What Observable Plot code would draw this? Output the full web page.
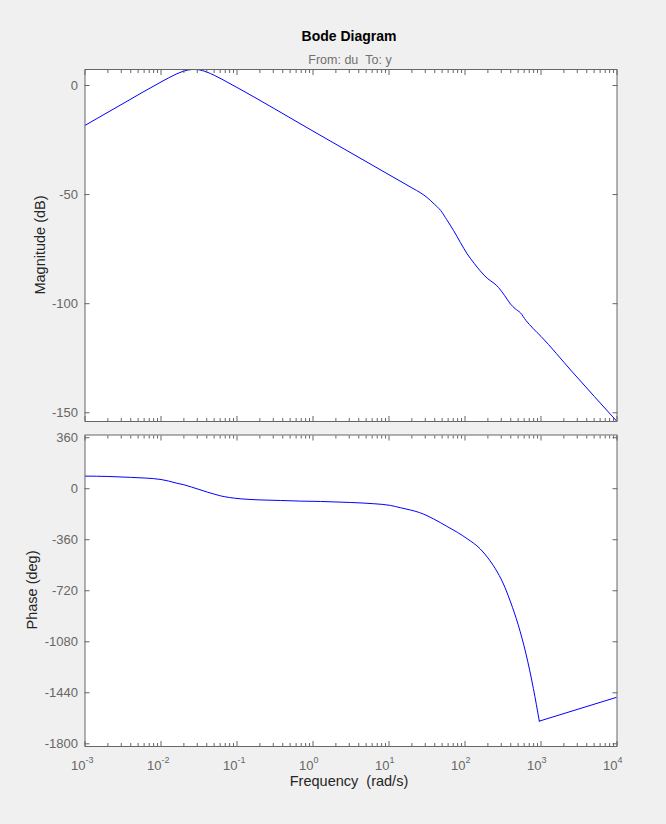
<!DOCTYPE html>
<html><head><meta charset="utf-8">
<script src="https://cdn.jsdelivr.net/npm/d3@7"></script>
<script src="https://cdn.jsdelivr.net/npm/@observablehq/plot@0.6"></script>
<style>
html,body{margin:0;padding:0;background:#f0f0f0;}
#fig{position:relative;width:666px;height:824px;background:#f0f0f0;overflow:hidden;font-family:"Liberation Sans",Arial,sans-serif;}
#fig svg{position:absolute;left:0;}
</style></head>
<body><div id="fig"></div>
<script>
// ---- data ----
const magFreq = [0.001, 0.00316, 0.01, 0.0158, 0.02, 0.0251, 0.0275, 0.0316, 0.0398, 0.0501, 0.0631, 0.1, 1, 10, 20, 26.3, 31.6, 39.8, 47.9, 57.5, 70.8, 87.1, 107, 132, 158, 200, 240, 275, 331, 398, 457, 537, 631, 794, 1000, 2512, 10000];
const magDb   = [-18.3, -8.3, 1.6, 5.2, 6.6, 7.3, 7.35, 7.2, 6.2, 4.7, 2.9, -0.9, -20.9, -40.9, -46.9, -49.3, -51.3, -54.5, -57.3, -61.5, -66.5, -72.0, -77.2, -81.5, -84.9, -88.6, -90.6, -92.5, -96.2, -100.2, -102.3, -104.2, -107.6, -111.5, -115.0, -130.8, -154.0];

const phaseFreq = [0.001, 0.002, 0.00398, 0.00631, 0.01, 0.0126, 0.0158, 0.02, 0.0251, 0.0316, 0.0407, 0.0501, 0.0603, 0.0794, 0.11, 0.2, 0.372, 0.681, 1.26, 3.09, 6.31, 10.5, 14.1, 19.1, 25.1, 31.6, 38.9, 57.5, 79.4, 107, 158, 200, 251, 316, 398, 501, 631, 794, 950];
const phaseDeg  = [89, 86.5, 80, 75, 65, 54, 40, 28, 12, -5, -24, -38, -50, -62, -71, -79, -83, -87.5, -90, -97, -106, -118, -134, -150, -168, -190, -214, -265, -308, -353, -424, -488, -565, -665, -800, -960, -1160, -1410, -1640];
const tailFreq = [950, 10000];
const tailDeg  = [-1640, -1471];

const magTicks = [0, -50, -100, -150];
const phaseTicks = [360, 0, -360, -720, -1080, -1440, -1800];
const decadeExp = [-3, -2, -1, 0, 1, 2, 3, 4];

const magDomain = [-154, 7.33];
const phaseDomain = [-1819, 379];

// ---- derived tables ----
const magData = magFreq.map((f, i) => ({f, v: magDb[i]}));
const phaseData = phaseFreq.map((f, i) => ({f, v: phaseDeg[i]}));
const tailData = tailFreq.map((f, i) => ({f, v: tailDeg[i]}));
const decadeFreq = decadeExp.map(e => 10 ** e);
const minorFreq = [];
decadeExp.slice(0, -1).forEach(e => { for (let m = 2; m <= 9; m++) minorFreq.push(m * 10 ** e); });

const AX = "#666666";
const BLUE = "#0000ff";
const FONT = "'Liberation Sans', Arial, sans-serif";

function tickMarks(yTicks) {
  const none = () => "";
  return [
    Plot.axisX(decadeFreq, {anchor: "bottom", tickSize: -5, tickFormat: none, stroke: AX, label: null}),
    Plot.axisX(decadeFreq, {anchor: "top", tickSize: -5, tickFormat: none, stroke: AX, label: null}),
    Plot.axisX(minorFreq, {anchor: "bottom", tickSize: -3, tickFormat: none, stroke: AX, label: null}),
    Plot.axisX(minorFreq, {anchor: "top", tickSize: -3, tickFormat: none, stroke: AX, label: null}),
    Plot.axisY(yTicks, {anchor: "left", tickSize: -5, tickFormat: none, stroke: AX, label: null}),
    Plot.axisY(yTicks, {anchor: "right", tickSize: -5, tickFormat: none, stroke: AX, label: null}),
    Plot.axisY(yTicks, {anchor: "left", tickSize: 0, tickPadding: 7, tickFormat: d => String(d), fill: AX, fontSize: 13, label: null})
  ];
}

function panel({height, marginTop, marginBottom, yDomain, yTicks, lines, extra = []}) {
  return Plot.plot({
    width: 666, height, marginLeft: 84.5, marginRight: 49.5, marginTop, marginBottom,
    style: {background: "transparent", fontFamily: FONT, fontSize: "13px", overflow: "visible"},
    x: {type: "log", domain: [1e-3, 1e4], axis: null},
    y: {domain: yDomain, axis: null},
    marks: [
      Plot.frame({fill: "white", stroke: null}),
      ...lines,
      Plot.frame({stroke: AX, strokeWidth: 1}),
      ...tickMarks(yTicks),
      ...extra
    ]
  });
}

const fig = document.getElementById("fig");

const magPlot = panel({
  height: 430, marginTop: 69, marginBottom: 9,
  yDomain: magDomain, yTicks: magTicks,
  lines: [Plot.line(magData, {x: "f", y: "v", stroke: BLUE, strokeWidth: 1, curve: "monotone-x", clip: true})]
});
magPlot.style.top = "0px";
fig.appendChild(magPlot);

const phasePlot = panel({
  height: 394, marginTop: 4.5, marginBottom: 78,
  yDomain: phaseDomain, yTicks: phaseTicks,
  lines: [
    Plot.line(phaseData, {x: "f", y: "v", stroke: BLUE, strokeWidth: 1, curve: "monotone-x", clip: true}),
    Plot.line(tailData, {x: "f", y: "v", stroke: BLUE, strokeWidth: 1, clip: true})
  ],
  extra: [
    Plot.text(decadeFreq, {x: d => d, text: () => "10", frameAnchor: "bottom", textAnchor: "end", lineAnchor: "bottom", dy: 23, dx: 0.5, fill: AX, fontSize: 13}),
    Plot.text(decadeExp, {x: d => 10 ** d, text: d => String(d), frameAnchor: "bottom", textAnchor: "start", lineAnchor: "bottom", dy: 16, dx: 0.5, fill: AX, fontSize: 9})
  ]
});
phasePlot.style.top = "430px";
fig.appendChild(phasePlot);

// ---- titles and axis labels ----
const ns = "http://www.w3.org/2000/svg";
const ov = document.createElementNS(ns, "svg");
ov.setAttribute("width", 666); ov.setAttribute("height", 824);
ov.style.top = "0px"; ov.style.pointerEvents = "none";
function txt(s, attrs) {
  const t = document.createElementNS(ns, "text");
  t.textContent = s;
  for (const k in attrs) t.setAttribute(k, attrs[k]);
  t.setAttribute("font-family", FONT);
  ov.appendChild(t);
}
txt("Bode Diagram", {x: 349, y: 40.5, "text-anchor": "middle", "font-weight": "bold", "font-size": 14, fill: "#000"});
txt("From: du\u00a0\u00a0To: y", {x: 350, y: 63.5, "text-anchor": "middle", "font-size": 12.5, fill: "#707070"});
txt("Magnitude (dB)", {transform: "translate(45,245) rotate(-90)", "text-anchor": "middle", "font-size": 14.5, fill: "#262626"});
txt("Phase (deg)", {transform: "translate(37,590) rotate(-90)", "text-anchor": "middle", "font-size": 14.5, fill: "#262626"});
txt("Frequency\u00a0\u00a0(rad/s)", {x: 349, y: 786, "text-anchor": "middle", "font-size": 14.5, fill: "#262626"});
fig.appendChild(ov);
</script>
</body></html>
